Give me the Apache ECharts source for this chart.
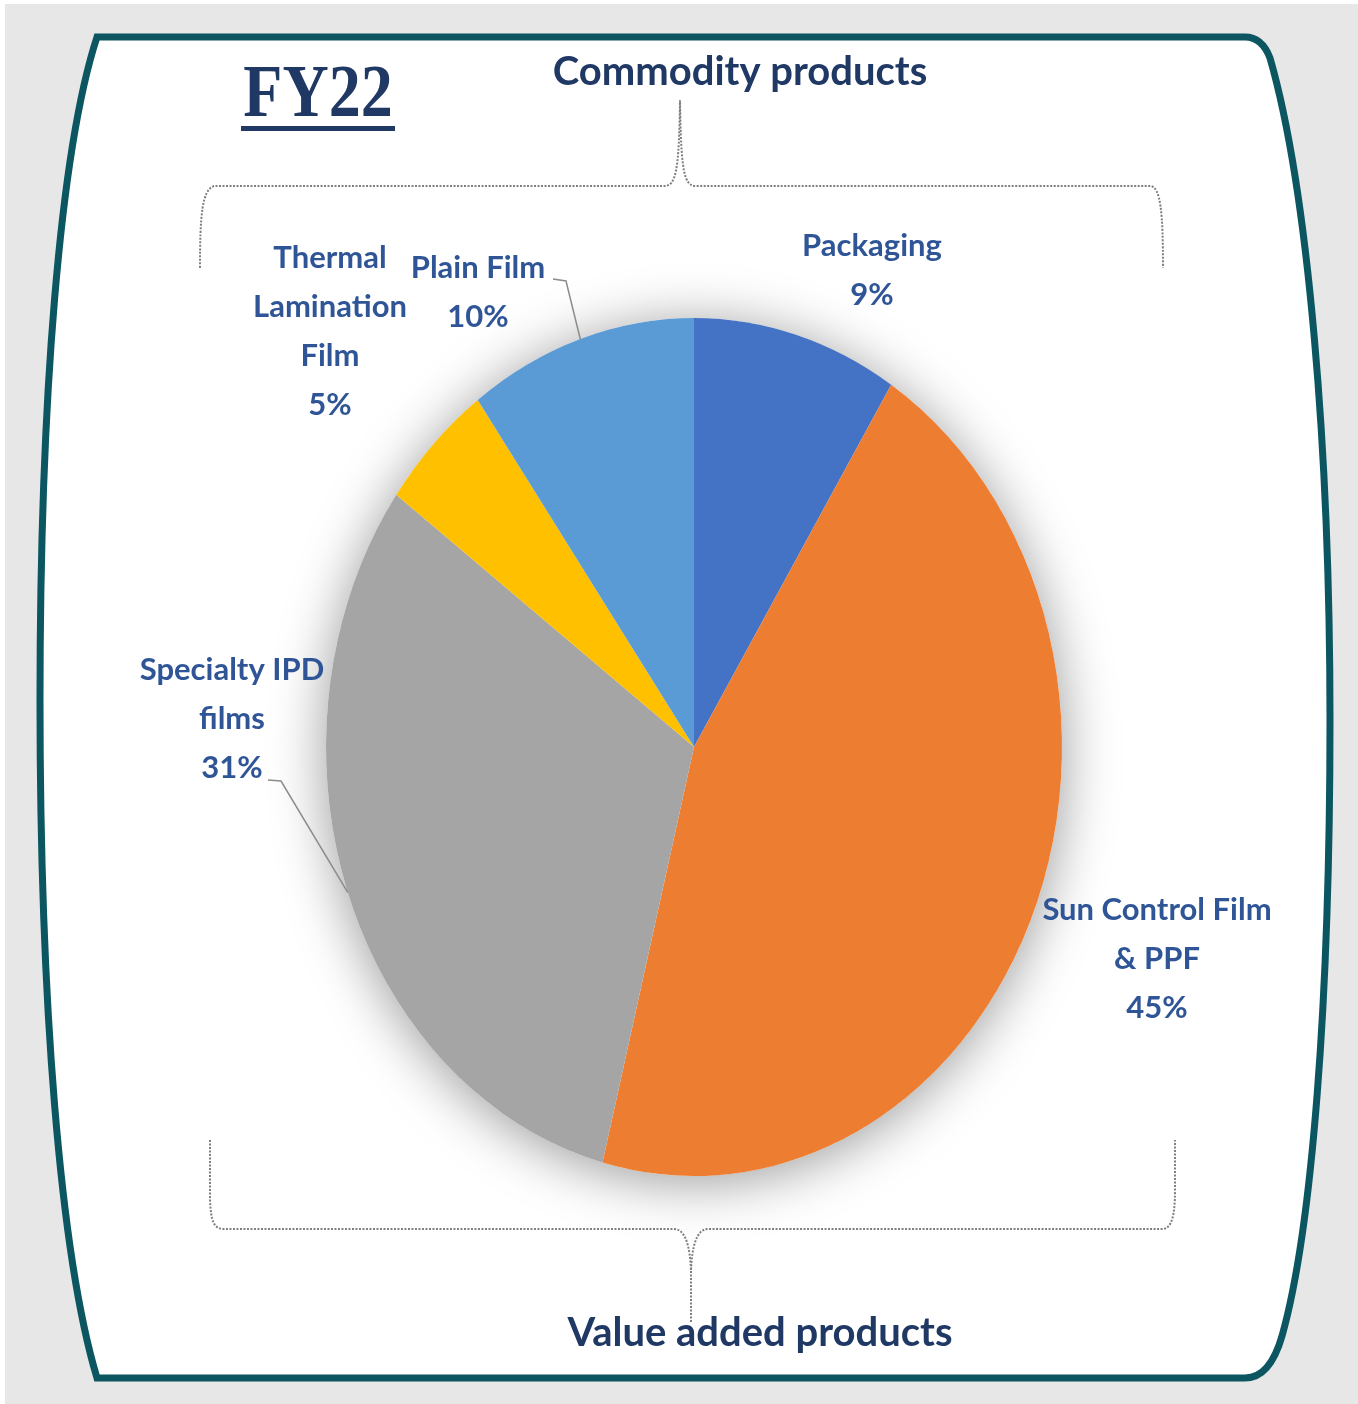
<!DOCTYPE html>
<html>
<head>
<meta charset="utf-8">
<script src="https://cdn.jsdelivr.net/npm/echarts@6/dist/echarts.min.js"></script>
<style>
  html, body { margin: 0; padding: 0; background: #ffffff; }
  #chart { width: 1358px; height: 1404px; }
</style>
</head>
<body>
<div id="chart"></div>
<script>
// FY22 revenue mix by product segment (% of total)
const segments = ['Packaging', 'Sun Control Film\n& PPF', 'Specialty IPD\nfilms', 'Thermal\nLamination\nFilm', 'Plain Film'];
const shares = [9, 45, 31, 5, 10];
const segmentColors = ['#4472C4', '#ED7D31', '#A5A5A5', '#FFC000', '#5B9BD5'];
const periodLabel = 'FY22';
const groupTop = 'Commodity products';
const groupBottom = 'Value added products';

// Elliptical pie geometry
const PIE = { cx: 694, cy: 747, rx: 368, ry: 429 };
// Label block centres, with optional leader-line start points
const labelLayout = [
  { at: [872, 270] },
  { at: [1157, 959] },
  { at: [232, 719], leader: [[268, 780], [281, 781]] },
  { at: [330, 331] },
  { at: [478, 292], leader: [[553, 279], [566, 281]] }
];

const LABEL_COLOR = '#2F5597';
const TITLE_COLOR = '#1F3864';
const total = shares.reduce((a, b) => a + b, 0);

function angleAt(cum) {
  return -Math.PI / 2 + 2 * Math.PI * cum / total;
}
function edgePoint(a) {
  return [PIE.cx + PIE.rx * Math.cos(a), PIE.cy + PIE.ry * Math.sin(a)];
}

function renderSlice(params, api) {
  const i = params.dataIndex;
  let cum = 0;
  for (let k = 0; k < i; k++) cum += shares[k];
  const v = api.value(0);
  const a0 = angleAt(cum);
  const a1 = angleAt(cum + v);
  const am = (a0 + a1) / 2;
  const lay = labelLayout[i];
  const children = [{
    type: 'sector',
    shape: { cx: PIE.cx, cy: PIE.cy, r: PIE.rx, r0: 0, startAngle: a0, endAngle: a1, clockwise: true },
    originX: PIE.cx, originY: PIE.cy, scaleY: PIE.ry / PIE.rx,
    style: { fill: segmentColors[i] }
  }, {
    type: 'text',
    x: lay.at[0], y: lay.at[1],
    style: {
      text: segments[i] + '\n' + v + '%',
      fill: LABEL_COLOR, textFill: LABEL_COLOR,
      font: 'bold 31px Lato',
      align: 'center', textAlign: 'center',
      verticalAlign: 'middle', textVerticalAlign: 'middle',
      lineHeight: 49
    }
  }];
  if (lay.leader) {
    children.push({
      type: 'polyline',
      shape: { points: lay.leader.concat([edgePoint(am)]) },
      style: { stroke: '#8C8C8C', lineWidth: 1.5, fill: null }
    });
  }
  return { type: 'group', children: children };
}

function renderShadow(params, api) {
  return {
    type: 'circle',
    shape: { cx: PIE.cx, cy: PIE.cy, r: PIE.rx },
    originX: PIE.cx, originY: PIE.cy, scaleY: PIE.ry / PIE.rx,
    style: {
      fill: '#ffffff',
      shadowBlur: 55,
      shadowColor: 'rgba(0,0,0,0.40)',
      shadowOffsetX: 0,
      shadowOffsetY: 6
    }
  };
}

// Rounded panel outline and the two dotted braces grouping the segments
const framePath =
  'M97,37 L1245,37 Q1262,37 1270,58 C1308,190 1330,450 1330,720 ' +
  'C1330,1000 1312,1230 1282,1336 Q1270,1378 1245,1378 L97,1378 ' +
  'C60,1255 40,1000 40,700 C40,400 60,150 97,37 Z';
const braceTop =
  'M200,268 C200,215 202,190 214,186 L664,186 C676,186 679,172 680,100 ' +
  'C681,172 684,186 696,186 L1150,186 C1161,186 1163,215 1163,268';
const braceBottom =
  'M210,1140 L210,1200 C211,1222 214,1229 224,1229 L674,1229 C686,1229 690,1248 691,1270 ' +
  'L691,1322 M691,1270 C692,1248 696,1229 708,1229 L1162,1229 C1172,1229 1175,1215 1175,1190 L1175,1140';

function renderDecor() {
  return {
    type: 'group',
    children: [
      { type: 'path', shape: { pathData: framePath }, style: { fill: '#ffffff', stroke: '#0B5661', lineWidth: 7 } },
      { type: 'path', shape: { pathData: braceTop }, style: { fill: null, stroke: '#7F7F7F', lineWidth: 2, lineDash: [2, 1.5] } },
      { type: 'path', shape: { pathData: braceBottom }, style: { fill: null, stroke: '#7F7F7F', lineWidth: 2, lineDash: [2, 1.5] } }
    ]
  };
}

const chart = echarts.init(document.getElementById('chart'), null, { renderer: 'canvas' });

chart.setOption({
  animation: false,
  backgroundColor: '#ffffff',
  graphic: [
    { type: 'rect', z: -10, shape: { x: 5, y: 4, width: 1353, height: 1400 }, style: { fill: '#E7E7E7' } },
    {
      type: 'text', x: 318, y: 97, scaleY: 1.16, z: 5,
      style: { text: periodLabel, font: 'bold 64px "Liberation Serif"', fill: TITLE_COLOR, textAlign: 'center', textVerticalAlign: 'middle' }
    },
    { type: 'rect', z: 5, shape: { x: 241, y: 126, width: 154, height: 5 }, style: { fill: TITLE_COLOR } },
    {
      type: 'text', x: 740, y: 72, z: 5,
      style: { text: groupTop, font: 'bold 40px Lato', fill: TITLE_COLOR, textAlign: 'center', textVerticalAlign: 'middle' }
    },
    {
      type: 'text', x: 760, y: 1333, z: 5,
      style: { text: groupBottom, font: 'bold 40px Lato', fill: TITLE_COLOR, textAlign: 'center', textVerticalAlign: 'middle' }
    }
  ],
  series: [
    {
      type: 'custom',
      name: 'panel',
      coordinateSystem: 'none',
      silent: true,
      z: 0,
      data: [[0]],
      renderItem: renderDecor
    },
    {
      type: 'custom',
      name: 'pie-shadow',
      coordinateSystem: 'none',
      silent: true,
      z: 1,
      data: [[total]],
      renderItem: renderShadow
    },
    {
      type: 'custom',
      name: 'FY22 mix',
      coordinateSystem: 'none',
      z: 2,
      data: shares.map(v => [v]),
      renderItem: renderSlice
    }
  ]
});
</script>
</body>
</html>
